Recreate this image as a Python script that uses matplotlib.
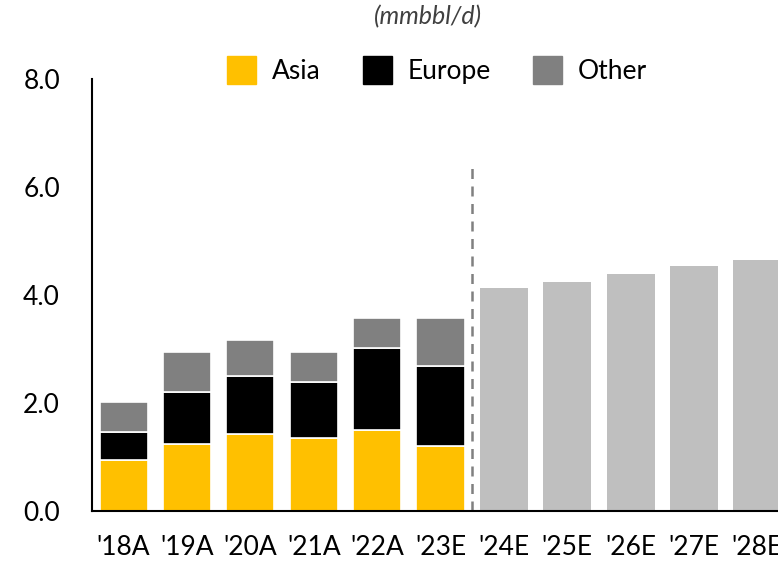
import matplotlib
matplotlib.use("Agg")
import matplotlib.pyplot as plt
import numpy as np
from matplotlib.patches import Patch

labels = ["'18A", "'19A", "'20A", "'21A", "'22A", "'23E", "'24E", "'25E", "'26E", "'27E", "'28E"]
asia = [0.94, 1.24, 1.43, 1.35, 1.50, 1.20]
europe = [0.53, 0.96, 1.07, 1.04, 1.52, 1.49]
other = [0.55, 0.74, 0.67, 0.55, 0.55, 0.88]
forecast = [4.13, 4.24, 4.39, 4.54, 4.65]

plt.rcParams['font.family'] = ['Lato', 'DejaVu Sans']

fig = plt.figure(figsize=(7.78, 5.64), dpi=100)
ax = fig.add_axes([92/778, (564-511)/564, (789-92)/778, (511-79)/564])

n_hist = len(asia)
xh = np.arange(n_hist)
xf = np.arange(n_hist, n_hist + len(forecast))
w = 0.76
asia_c, eur_c, oth_c, fc_c = '#FFC000', '#000000', '#808080', '#BFBFBF'
ax.bar(xh, asia, w, color=asia_c, edgecolor='white', linewidth=1.2)
ax.bar(xh, europe, w, bottom=asia, color=eur_c, edgecolor='white', linewidth=1.2)
bot2 = np.array(asia) + np.array(europe)
ax.bar(xh, other, w, bottom=bot2, color=oth_c, edgecolor='white', linewidth=1.2)
ax.bar(xf, forecast, w, color=fc_c, edgecolor='none')

ax.plot([n_hist - 0.5, n_hist - 0.5], [0, 6.4], color='#808080', linestyle=(0, (4, 3)), linewidth=1.8)

ax.set_xlim(-0.5, len(labels) - 0.5)
ax.set_ylim(0, 8)
ax.set_yticks([0, 2, 4, 6, 8])
ax.set_yticklabels(['0.0', '2.0', '4.0', '6.0', '8.0'], fontsize=19)
ax.set_xticks(np.arange(len(labels)))
ax.set_xticklabels(labels, fontsize=19)
ax.tick_params(axis='y', length=0, pad=23)
ax.tick_params(axis='x', length=0, pad=17)
for s in ['top', 'right']:
    ax.spines[s].set_visible(False)
ax.spines['left'].set_linewidth(1.5)
ax.spines['bottom'].set_linewidth(1.5)

handles = [Patch(color=asia_c, label='Asia'), Patch(color=eur_c, label='Europe'), Patch(color=oth_c, label='Other')]
fig.legend(handles=handles, loc='center', bbox_to_anchor=(437/778, 1 - 70/564), ncol=3,
           frameon=False, fontsize=19, handlelength=1.1, handleheight=1.25, columnspacing=1.6, handletextpad=0.6)
fig.text(428/778, 1 - 17/564, '(mmbbl/d)', ha='center', va='center', fontsize=18, style='italic', color='#404040')

fig.savefig('out.png', dpi=100)
